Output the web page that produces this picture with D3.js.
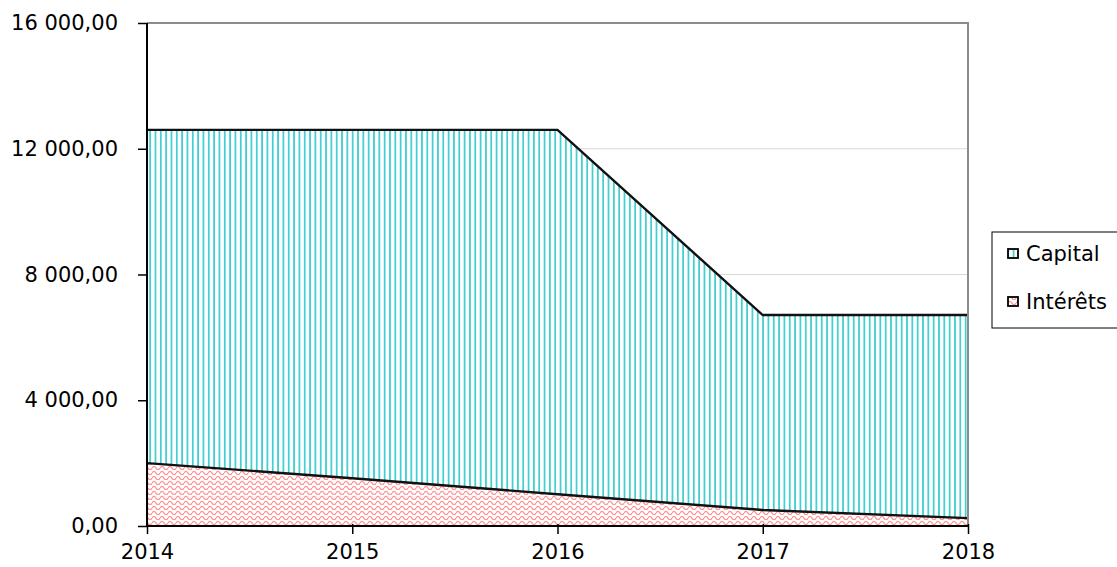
<!DOCTYPE html>
<html><head><meta charset="utf-8">
<script src="https://cdn.jsdelivr.net/npm/d3@7"></script>
<style>
body{margin:0;background:#fff;}
text{font-family:"DejaVu Sans",sans-serif;}
</style></head>
<body><svg id="c" width="1117" height="567"></svg>
<script>
const years = [2014, 2015, 2016, 2017, 2018];
const interets = [2000, 1520, 1010, 510, 250];
const capital = [10600, 11080, 11590, 6200, 6460];
const yTicks = [0, 4000, 8000, 12000, 16000];
const seriesNames = ["Capital", "Intérêts"];

const svg = d3.select("#c");
const defs = svg.append("defs");
const pv = defs.append("pattern").attr("id","pv").attr("patternUnits","userSpaceOnUse")
  .attr("width",5.33).attr("height",10);
pv.append("rect").attr("width",5.33).attr("height",10).attr("fill","#fff");
pv.append("rect").attr("x",0).attr("width",1.8).attr("height",10).attr("fill","#45cfd2");
const pw = defs.append("pattern").attr("id","pw").attr("patternUnits","userSpaceOnUse")
  .attr("width",8).attr("height",5);
pw.append("rect").attr("width",8).attr("height",5).attr("fill","#fff");
pw.append("path").attr("d","M0,3.2 C1.5,0.8 2.5,0.8 4,3.2 S6.5,5.6 8,3.2").attr("fill","none")
  .attr("stroke","#ff9494").attr("stroke-width",1.3);

const x = d3.scaleLinear().domain([2014,2018]).range([147,968]);
const y = d3.scaleLinear().domain([0,16000]).range([526,23]);

// gridlines
svg.append("g").selectAll("line").data(yTicks.filter(d=>d>0 && d<16000)).join("line")
  .attr("x1",147).attr("x2",968).attr("y1",d=>y(d)).attr("y2",d=>y(d))
  .attr("stroke","#d9d9d9").attr("stroke-width",1.2);

const stackData = years.map((yr,i)=>({year:yr, Intérêts:interets[i], Capital:capital[i]}));
const stack = d3.stack().keys(["Intérêts","Capital"])(stackData);
const area = d3.area().x(d=>x(d.data.year)).y0(d=>y(d[0])).y1(d=>y(d[1]));
const line = d3.line().x(d=>x(d.data.year)).y(d=>y(d[1]));
const fills = {"Intérêts":"url(#pw)","Capital":"url(#pv)"};
svg.append("g").selectAll("path").data(stack).join("path")
  .attr("d",area).attr("fill",d=>fills[d.key]);
svg.append("g").selectAll("path").data(stack).join("path")
  .attr("d",line).attr("fill","none").attr("stroke","#111").attr("stroke-width",2.4);

// borders
svg.append("line").attr("x1",147).attr("x2",968).attr("y1",y(16000)).attr("y2",y(16000))
  .attr("stroke","#8c8c8c").attr("stroke-width",2);
svg.append("line").attr("x1",968).attr("x2",968).attr("y1",y(16000)-1).attr("y2",y(0))
  .attr("stroke","#8c8c8c").attr("stroke-width",2);

const fmt = v => d3.format(",.2f")(v).replace(/,/g," ").replace(".",",");
const yAxis = svg.append("g").attr("transform","translate(147,0)")
  .call(d3.axisLeft(y).tickValues(yTicks).tickFormat(fmt).tickSize(9).tickPadding(20));
const xAxis = svg.append("g").attr("transform","translate(0,526)")
  .call(d3.axisBottom(x).tickValues(years).tickFormat(d3.format("d")).tickSize(8).tickPadding(10));
[yAxis,xAxis].forEach(a=>{
  a.attr("font-size",21).attr("font-family","DejaVu Sans");
  a.select(".domain").attr("stroke","#000").attr("stroke-width",2);
  a.selectAll(".tick line").attr("stroke","#000").attr("stroke-width",1.5);
  a.selectAll("text").style("font-size","21px").attr("fill","#000");
});
yAxis.select(".domain").attr("d","M0,23V526");
xAxis.select(".domain").attr("d","M147,0H968");
xAxis.selectAll(".tick line").attr("y1",-2).attr("y2",8);

// legend
const lg = svg.append("g");
lg.append("rect").attr("x",992).attr("y",232).attr("width",140).attr("height",96)
  .attr("fill","#fff").attr("stroke","#000").attr("stroke-width",1);
const legFill = ["url(#pv)","url(#pw)"];
seriesNames.forEach((n,i)=>{
  const ly = 254 + i*48;
  lg.append("rect").attr("x",1008).attr("y",ly-5).attr("width",10).attr("height",9)
    .attr("fill",legFill[i]).attr("stroke","#000").attr("stroke-width",1.8);
  lg.append("text").attr("x",1026).attr("y",ly+7).text(n).style("font-size","21px").attr("fill","#000");
});
</script></body></html>
